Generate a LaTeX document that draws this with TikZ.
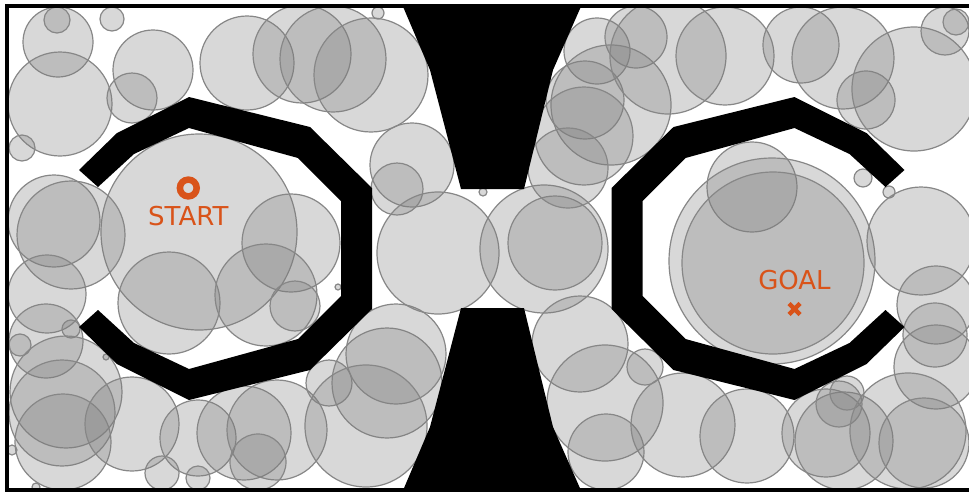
\documentclass[tikz,border=0pt]{standalone}
\usepackage{fontspec}
\setmainfont{DejaVu Sans}
\definecolor{morange}{RGB}{217,83,25}
\begin{document}
\begin{tikzpicture}[x=1pt,y=-1pt,
  ball/.style={fill=black!50, fill opacity=0.3, draw=black!47, draw opacity=1, line width=1.2pt},
  obst/.style={fill=black, draw=none},
  lbl/.style={text=morange, font=\fontsize{26}{26}\selectfont, inner sep=0pt}]
\useasboundingbox (0,0) rectangle (969,491);
\fill[white] (0,0) rectangle (969,491);
\begin{scope}
\clip (7,6.2) rectangle (990,489.5);
\foreach \x/\y/\r in {
 58/42/35, 57/20/13, 112/19/12, 60/104/52, 153/70/40, 132/98/25, 22/148/13,
 247/63/47, 302/54/49, 333/59/53, 371/75/57, 378/13/6, 412/165/42, 397/189/26, 483/192/4,
 199/232/98, 54/221/46, 71/235/54, 47/294/39, 291/243/49, 169/303/51, 266/295/51,
 295/306/25, 338/287/3, 46/341/37, 71/329/9, 20/345/11, 106/357/3,
 66/392/56, 62/413/53, 63/442/48, 132/424/47, 198/438/38, 244/433/47, 277/430/50,
 258/462/28, 162/473/17, 198/478/12, 36/487/4, 12/450/5, 329/383/23, 387/383/55,
 396/354/50, 366/426/61,
 438/253/61, 544/249/64, 555/243/47,
 597/51/33, 636/37/31, 585/100/39, 611/105/60, 584/136/49, 568/168/40, 668/56/58,
 725/56/49, 801/45/38, 843/58/51, 866/100/29, 914/89/62, 945/31/24, 956/22/13,
 752/187/45, 863/178/9, 889/192/6,
 772/261/103, 773/263/91, 921/241/54, 936/305/39, 935/335/32, 936/367/42,
 580/344/48, 605/403/58, 645/367/18, 606/452/38, 683/425/52, 747/436/47,
 826/433/44, 844/441/49, 839/404/23, 847/393/17, 908/431/58, 924/443/45}
 { \draw[ball] (\x,\y) circle[radius=\r pt]; }
\end{scope}
% obstacles
\fill[obst] (402,4.2) -- (430,70) -- (461,189) -- (524,189) -- (553,70) -- (582,4.2) -- cycle;
\fill[obst] (402,492.8) -- (430,427) -- (461,308) -- (524,308) -- (553,427) -- (582,492.8) -- cycle;
\fill[obst] (79,170) -- (117,133) -- (189,97) -- (310,127) -- (372,188) -- (372,309) -- (310,370)
  -- (189,400) -- (117,364) -- (79,327) -- (98,310) -- (134,343) -- (189,369) -- (298,339)
  -- (341,296) -- (341,201) -- (298,158) -- (189,128) -- (134,154) -- (98,187) -- cycle;
\fill[obst] (904.5,170) -- (866.5,133) -- (794.5,97) -- (673.5,127) -- (611.5,188) -- (611.5,309)
  -- (673.5,370) -- (794.5,400) -- (866.5,364) -- (904.5,327) -- (885.5,310) -- (849.5,343)
  -- (794.5,369) -- (685.5,339) -- (642.5,296) -- (642.5,201) -- (685.5,158) -- (794.5,128)
  -- (849.5,154) -- (885.5,187) -- cycle;
% frame
\draw[line width=4pt] (990,6.2) -- (7,6.2) -- (7,489.5) -- (990,489.5);
% start and goal
\draw[morange, line width=6.5pt] (188.3,188) circle[radius=8.4pt];
\node[lbl] (start) at (188.3,216) {START};
\draw[morange, line width=4.5pt] (789,303.5) -- (800,314.5) (789,314.5) -- (800,303.5);
\node[lbl] (goal) at (794.5,280) {GOAL};
\end{tikzpicture}
\end{document}
